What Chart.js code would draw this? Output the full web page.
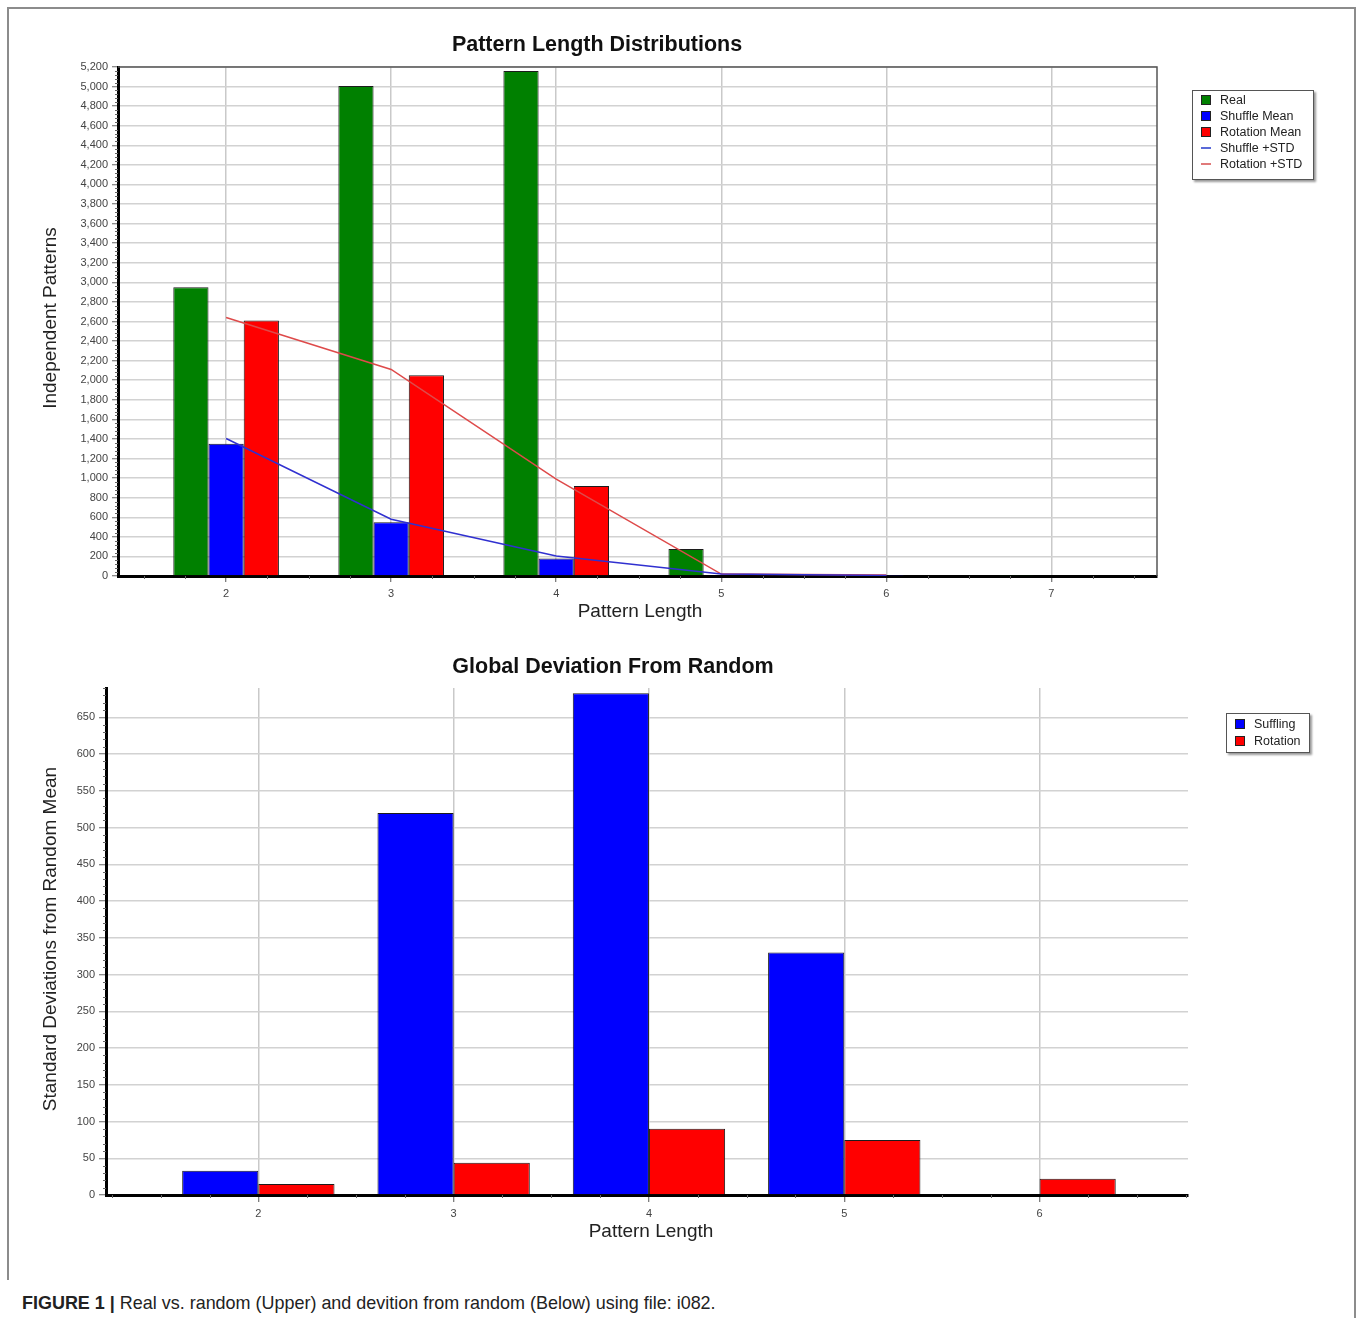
<!DOCTYPE html>
<html>
<head>
<meta charset="utf-8">
<title>Pattern Length Distributions</title>
<script src="https://cdn.jsdelivr.net/npm/chart.js@4.4.1/dist/chart.umd.min.js"></script>
<style>
  html, body { margin: 0; padding: 0; background: #fff; }
  body { width: 1357px; height: 1318px; position: relative; overflow: hidden;
         font-family: "Liberation Sans", Arial, sans-serif; }
  .frame { position: absolute; background: #8c8c8c; }
  canvas { position: absolute; left: 0; }
  .title { position: absolute; font-weight: bold; font-size: 21.5px; color: #111;
           white-space: nowrap; transform: translate(-50%, -50%); }
  .axt { position: absolute; font-size: 19px; color: #222; white-space: nowrap;
         transform: translate(-50%, -50%); }
  .axt.rot { transform: translate(-50%, -50%) rotate(-90deg); }
  .legend { position: absolute; box-sizing: border-box; border: 1px solid #555; background: #fff;
            box-shadow: 2px 2px 2px #9a9a9a; font-size: 12.5px; color: #222; padding: 1px 0 0 8px; }
  .legend .row { display: flex; align-items: center; white-space: nowrap; }
  .legend .sw { width: 8px; height: 8px; border: 1px solid #222; margin-right: 9px; flex: none; }
  .legend .ln { width: 10px; height: 2px; margin-right: 9px; flex: none; }
  .caption { position: absolute; left: 22px; top: 1292px; font-size: 19px; color: #222;
             white-space: nowrap; transform: scaleX(0.945); transform-origin: left top; }
  .caption b { font-weight: bold; }
</style>
</head>
<body>
<div class="frame" style="left:7px; top:7px; width:1349px; height:2px;"></div>
<div class="frame" style="left:7px; top:7px; width:2px; height:1273px;"></div>
<div class="frame" style="left:1354px; top:7px; width:2px; height:1311px;"></div>

<canvas id="top" width="1357" height="640" style="top:0"></canvas>
<canvas id="bottom" width="1357" height="620" style="top:640px"></canvas>

<div class="title" style="left:597px; top:44px;">Pattern Length Distributions</div>
<div class="axt rot" style="left:50px; top:318px;">Independent Patterns</div>
<div class="axt" style="left:640px; top:611px;">Pattern Length</div>
<div class="legend" id="legendTop" style="left:1192px; top:90px; width:122px; height:90px;"></div>

<div class="title" style="left:613px; top:666px;">Global Deviation From Random</div>
<div class="axt rot" style="left:50px; top:939px;">Standard Deviations from Random Mean</div>
<div class="axt" style="left:651px; top:1231px;">Pattern Length</div>
<div class="legend" id="legendBottom" style="left:1226px; top:713px; width:84px; height:40px;"></div>

<div class="caption"><b>FIGURE 1 |</b> Real vs. random (Upper) and devition from random (Below) using file: i082.</div>

<script>
// ---- Upper chart: pattern counts per pattern length ----
const lengthsTop = [2, 3, 4, 5, 6, 7];
const realCounts = [2950, 5005, 5160, 275, 12, 5];
const shuffleMean = [1350, 550, 180, 8, 3, 0];
const rotationMean = [2610, 2050, 920, 18, 10, 0];
const stdLengths = [2, 3, 4, 5, 6];
const shuffleStd = [1405, 580, 205, 20, 6];
const rotationStd = [2640, 2110, 990, 20, 10];

// ---- Lower chart: deviation from random mean ----
const lengthsBottom = [2, 3, 4, 5, 6];
const shufflingDev = [33, 520, 683, 330, 0];
const rotationDev = [15, 44, 90, 75, 22];

const GREEN = '#008000', BLUE = '#0000ff', RED = '#ff0000';
const LINE_BLUE = '#3030d0', LINE_RED = '#de4a4a';

const pts = (xs, ys) => xs.map((x, i) => ({ x: x, y: ys[i] }));
const tickFont = { family: '"Liberation Sans", Arial, sans-serif', size: 11 };

// Short minor tick marks along both axes
const minorTicks = {
  id: 'minorTicks',
  afterDraw(chart, args, o) {
    const { ctx, chartArea: a, scales: { x, y } } = chart;
    ctx.save();
    ctx.strokeStyle = '#666';
    ctx.lineWidth = 1;
    ctx.beginPath();
    for (let v = Math.ceil(x.min / o.xStep) * o.xStep; v <= x.max + 1e-9; v += o.xStep) {
      if (Math.abs(v - Math.round(v)) < 1e-6) continue;
      const px = Math.round(x.getPixelForValue(v)) + 0.5;
      ctx.moveTo(px, a.bottom); ctx.lineTo(px, a.bottom + o.len);
    }
    for (let v = 0; v <= y.max + 1e-9; v += o.yStep) {
      if (v % o.yMajor === 0) continue;
      const py = Math.round(y.getPixelForValue(v)) + 0.5;
      ctx.moveTo(a.left - o.len, py); ctx.lineTo(a.left, py);
    }
    ctx.stroke();
    ctx.restore();
  }
};

// Thin top and right border of the plot box
const plotFrame = {
  id: 'plotFrame',
  beforeDatasetsDraw(chart, args, o) {
    if (!o.show) return;
    const { ctx, chartArea: a } = chart;
    ctx.save();
    ctx.strokeStyle = '#555';
    ctx.lineWidth = 1.5;
    ctx.beginPath();
    ctx.moveTo(a.left, a.top); ctx.lineTo(a.right, a.top); ctx.lineTo(a.right, a.bottom);
    ctx.stroke();
    ctx.restore();
  }
};

function barSet(label, xs, ys, color) {
  return { type: 'bar', label, data: pts(xs, ys), backgroundColor: color,
           borderColor: '#1c1c1c', borderWidth: 1, borderSkipped: 'start', order: 1 };
}
function lineSet(label, xs, ys, color) {
  return { type: 'line', label, data: pts(xs, ys), borderColor: color, borderWidth: 1.5,
           pointRadius: 0, tension: 0, fill: false, order: 0 };
}

function baseOptions(cfg) {
  return {
    responsive: false,
    animation: false,
    events: [],
    layout: { padding: cfg.padding },
    plugins: {
      legend: { display: false },
      tooltip: { enabled: false },
      minorTicks: cfg.minor,
      plotFrame: { show: cfg.frame }
    },
    datasets: { bar: { categoryPercentage: cfg.groupFrac, barPercentage: 1.0 } },
    scales: {
      x: {
        type: 'linear', offset: false, min: cfg.xMin, max: cfg.xMax,
        afterBuildTicks: s => { s.ticks = cfg.cats.map(v => ({ value: v })); },
        afterFit: s => { s.height = 40; },
        ticks: { font: tickFont, color: '#444', padding: cfg.xPad, maxRotation: 0 },
        grid: { offset: false, color: '#c9c9c9', lineWidth: 1.5, drawTicks: true, tickLength: cfg.tickLen,
                tickColor: '#555', tickWidth: 1 },
        border: { color: '#000', width: 3 }
      },
      y: {
        min: 0, max: cfg.yMax,
        ticks: { stepSize: cfg.yStep, font: tickFont, color: '#444', padding: 4,
                 callback: v => v.toLocaleString('en-US') },
        afterBuildTicks: s => { s.ticks = s.ticks.filter(t => t.value % cfg.yStep === 0); },
        afterFit: s => { s.width = 60; },
        grid: { color: '#d2d2d2', lineWidth: 1.5, drawTicks: true, tickLength: cfg.tickLen,
                tickColor: '#666', tickWidth: 1 },
        border: { color: '#000', width: 3 }
      }
    }
  };
}

new Chart(document.getElementById('top'), {
  data: {
    datasets: [
      barSet('Real', lengthsTop, realCounts, GREEN),
      barSet('Shuffle Mean', lengthsTop, shuffleMean, BLUE),
      barSet('Rotation Mean', lengthsTop, rotationMean, RED),
      lineSet('Shuffle +STD', stdLengths, shuffleStd, LINE_BLUE),
      lineSet('Rotation +STD', stdLengths, rotationStd, LINE_RED)
    ]
  },
  options: baseOptions({
    padding: { left: 58, right: 200, top: 67, bottom: 24 },
    minor: { xStep: 0.25, yStep: 40, yMajor: 200, len: 3 },
    frame: true, groupFrac: 0.64, xMin: 1.345, xMax: 7.64, cats: lengthsTop,
    yMax: 5200, yStep: 200, tickLen: 6, xPad: 5
  }),
  plugins: [minorTicks, plotFrame]
});

new Chart(document.getElementById('bottom'), {
  data: {
    datasets: [
      barSet('Suffling', lengthsBottom, shufflingDev, BLUE),
      barSet('Rotation', lengthsBottom, rotationDev, RED)
    ]
  },
  options: baseOptions({
    padding: { left: 46, right: 169, top: 48, bottom: 25 },
    minor: { xStep: 0.25, yStep: 10, yMajor: 50, len: 3 },
    frame: false, groupFrac: 0.78, xMin: 1.22, xMax: 6.76, cats: lengthsBottom,
    yMax: 690, yStep: 50, tickLen: 7, xPad: 5
  }),
  plugins: [minorTicks, plotFrame]
});

// HTML legends built from the dataset labels and colours
function buildLegend(id, items, rowH) {
  const box = document.getElementById(id);
  items.forEach(it => {
    const row = document.createElement('div');
    row.className = 'row';
    row.style.height = rowH + 'px';
    const mark = document.createElement('span');
    mark.className = it.line ? 'ln' : 'sw';
    mark.style.background = it.color;
    row.appendChild(mark);
    row.appendChild(document.createTextNode(it.label));
    box.appendChild(row);
  });
}
buildLegend('legendTop', [
  { label: 'Real', color: GREEN },
  { label: 'Shuffle Mean', color: BLUE },
  { label: 'Rotation Mean', color: RED },
  { label: 'Shuffle +STD', color: '#5a6ad8', line: true },
  { label: 'Rotation +STD', color: '#e07a7a', line: true }
], 16);
buildLegend('legendBottom', [
  { label: 'Suffling', color: BLUE },
  { label: 'Rotation', color: RED }
], 17);
</script>
</body>
</html>
